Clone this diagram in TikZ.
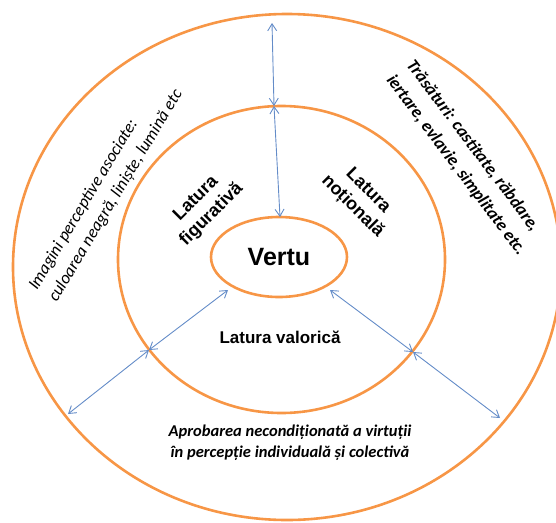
\documentclass[tikz,border=0pt]{standalone}
\usepackage{fontspec}
\setmainfont{Liberation Sans}
\newfontfamily\calfont{Carlito}
\usetikzlibrary{shapes.geometric,arrows.meta}
\definecolor{ringcol}{RGB}{247,150,70}
\definecolor{linkcol}{RGB}{100,140,200}
\begin{document}
\begin{tikzpicture}[x=1pt,y=-1pt,
  ring/.style={ellipse, draw=ringcol, line width=2.6pt, inner sep=0pt},
  link/.style={draw=linkcol, line width=0.9pt, {Straight Barb[length=7pt,width=9pt]}-{Straight Barb[length=7pt,width=9pt]}},
  lab/.style={font=\bfseries\fontsize{18}{22}\selectfont, align=center},
  note/.style={font=\calfont\itshape\fontsize{17.2}{23}\selectfont, align=left},
  trasnote/.style={font=\calfont\bfseries\itshape\fontsize{17.5}{25}\selectfont, align=left},
  apronote/.style={font=\calfont\bfseries\itshape\fontsize{16.5}{21}\selectfont, align=center}]
\useasboundingbox (0,0) rectangle (556,522);
\node[ring, minimum width=548pt, minimum height=506pt] (outer) at (287,267) {};
\node[ring, minimum width=327pt, minimum height=307pt] (middle) at (281.5,259.5) {};
\node[ring, minimum width=136pt, minimum height=80pt, font=\bfseries\fontsize{25}{28}\selectfont] (vertu) at (279,257) {Vertu};
\coordinate (o1) at (272,23);
\coordinate (m1) at (274,106);
\coordinate (v1) at (280,217);
\coordinate (v2) at (228,290);
\coordinate (m2) at (149,350);
\coordinate (o2) at (68,414);
\coordinate (v3) at (330,290);
\coordinate (m3) at (413,352);
\coordinate (o3) at (500,418);
\draw[link] (o1) -- (m1);
\draw[link] (m1) -- (v1);
\draw[link] (v2) -- (m2);
\draw[link] (m2) -- (o2);
\draw[link] (v3) -- (m3);
\draw[link] (m3) -- (o3);
\node[lab, rotate=45] (fig) at (204,207) {Latura\\figurativă};
\node[lab, rotate=-45] (notl) at (360,199) {Latura\\noțională};
\node[lab, font=\bfseries\fontsize{17}{20}\selectfont] (val) at (280,337) {Latura valorică};
\node[note, rotate=59] (imag) at (106,190) {Imagini perceptive asociate:\\culoarea neagră, liniște, lumină etc};
\node[trasnote, rotate=-53] (tras) at (466,158) {Trăsături: castitate, răbdare,\\iertare, evlavie, simplitate etc.};
\node[apronote] (apro) at (290,443) {Aprobarea necondiționată a virtuții\\în percepție individuală și colectivă};
\end{tikzpicture}
\end{document}
